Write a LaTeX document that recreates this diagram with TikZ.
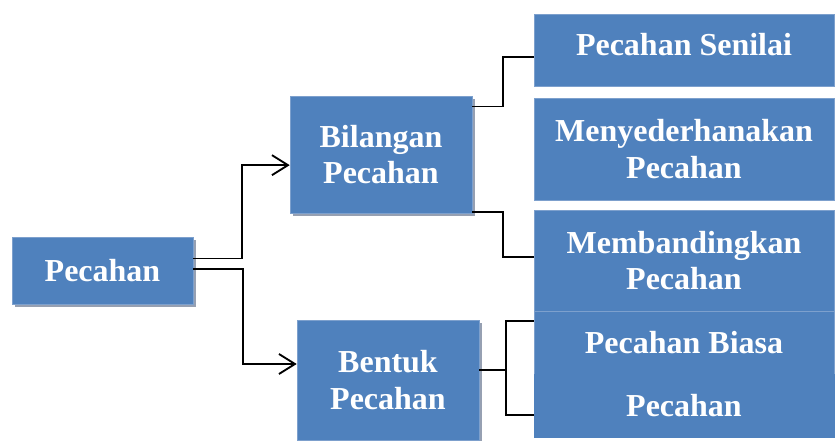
\documentclass[tikz,border=0pt]{standalone}
\usepackage{fontspec}
\setmainfont{Liberation Serif}
\usetikzlibrary{positioning,arrows.meta,shadows}
\definecolor{boxblue}{RGB}{79,129,189}
\definecolor{boxedge}{RGB}{125,160,205}
\definecolor{shadowgray}{RGB}{150,160,178}

\begin{document}
\begin{tikzpicture}[x=0.75pt,y=-0.75pt,
    box/.style={fill=boxblue, draw=boxedge, line width=0.4pt, text=white, align=center,
        font=\fontsize{24}{27.5}\selectfont\bfseries, inner sep=0pt},
    shade box/.style={box, drop shadow={shadow xshift=2.5pt, shadow yshift=-2.5pt, fill=shadowgray, opacity=1}},
    link/.style={draw=black, line width=1.4pt},
    arr/.style={link, -{Straight Barb[length=12pt,width=15pt,line width=1.4pt]}}]
    \useasboundingbox (0,0) rectangle (835,441);

    \node (pecahan) [shade box, minimum width=135.75pt, minimum height=50.25pt] at (102.5,270.5) {Pecahan};
    \node (bilangan) [shade box, minimum width=136.5pt, minimum height=87.75pt] at (381,154.5) {Bilangan\\Pecahan};
    \node (bentuk) [shade box, minimum width=136.5pt, minimum height=90pt] at (388,380) {Bentuk\\Pecahan};

    \node (senilai) [box, minimum width=225pt, minimum height=54pt, text depth=8pt] at (684,50) {Pecahan Senilai};
    \node (sederhana) [box, minimum width=225pt, minimum height=76.5pt] at (684,149) {Menyederhanakan\\Pecahan};
    \node (banding) [box, minimum width=225pt, minimum height=75.75pt] at (684,260.5) {Membandingkan\\Pecahan};
    \node (biasa) [box, minimum width=225pt, minimum height=47.25pt] at (684,342.5) {Pecahan Biasa};
    \node (lain) [box, draw=boxblue, minimum width=225pt, minimum height=47.25pt] at (684,405.5) {Pecahan};

    \draw [arr] ([yshift=9pt]pecahan.east) -- ++(49,0) |- ([yshift=-8pt]bilangan.west);
    \draw [arr] ([yshift=1pt]pecahan.east) -- ++(50,0) |- ([yshift=12pt]bentuk.west);

    \draw [link] ([yshift=36pt]bilangan.east) -- ++(31,0) |- ([yshift=-5pt]senilai.west);
    \draw [link] ([yshift=-43pt]bilangan.east) -- ++(31,0) |- ([yshift=2.6pt]banding.west);

    \draw [link, line width=2pt] ([yshift=7.5pt]bentuk.east) -- ++(27,0) coordinate (split);
    \draw [link] (split) |- ([yshift=16pt]biasa.west);
    \draw [link] (split) |- ([yshift=-7pt]lain.west);
\end{tikzpicture}
\end{document}
